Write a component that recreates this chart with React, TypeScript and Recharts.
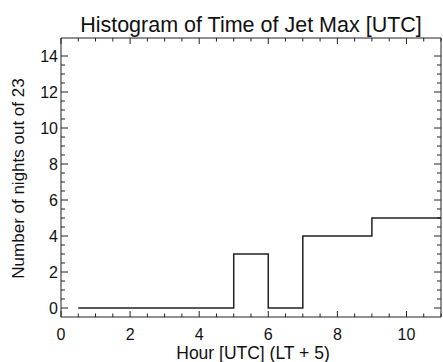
import React from 'react';
import { LineChart, Line, XAxis, YAxis } from 'recharts';

// histogram bins (left edge of each bin, hours UTC) and counts
const binStart = [0.5, 1, 2, 3, 4, 5, 6, 7, 8, 9, 10, 11];
const nightCounts = [0, 0, 0, 0, 0, 3, 0, 4, 4, 5, 5, 5];

const xTicks = Array.from({ length: 23 }, (_, i) => i * 0.5);
const yTicks = Array.from({ length: 29 }, (_, i) => i * 0.5);

const chartData = binStart.map((h, i) => ({ hour: h, nights: nightCounts[i] }));

const FONT = '"Liberation Sans", Arial, Helvetica, sans-serif';
const INK = '#222';
const MAJOR = 6;
const MINOR = 3.5;

const isMajor = (v: number) => Number.isInteger(v) && v % 2 === 0;

const BottomTick = (props: any) => {
  const { x, y, payload } = props;
  const major = isMajor(payload.value);
  return (
    <g>
      <line x1={x} x2={x} y1={y} y2={y - (major ? MAJOR : MINOR)} stroke={INK} strokeWidth={1} />
      {major && (
        <text x={x} y={y + 23} textAnchor="middle" fontSize={16} fontFamily={FONT} fill="#111">
          {payload.value}
        </text>
      )}
    </g>
  );
};

const TopTick = (props: any) => {
  const { x, y, payload } = props;
  const major = isMajor(payload.value);
  return <line x1={x} x2={x} y1={y} y2={y + (major ? MAJOR : MINOR)} stroke={INK} strokeWidth={1} />;
};

const LeftTick = (props: any) => {
  const { x, y, payload } = props;
  const major = isMajor(payload.value);
  return (
    <g>
      <line x1={x} x2={x + (major ? MAJOR + 1 : MINOR + 0.5)} y1={y} y2={y} stroke={INK} strokeWidth={1} />
      {major && (
        <text x={x - 3} y={y} dy="0.36em" textAnchor="end" fontSize={16} fontFamily={FONT} fill="#111">
          {payload.value}
        </text>
      )}
    </g>
  );
};

const RightTick = (props: any) => {
  const { x, y, payload } = props;
  const major = isMajor(payload.value);
  return <line x1={x} x2={x - (major ? MAJOR + 1 : MINOR + 0.5)} y1={y} y2={y} stroke={INK} strokeWidth={1} />;
};

export default function App() {
  return (
    <div style={{ position: 'absolute', left: 0, top: 0, width: 443, height: 362, background: '#fff' }}>
      <LineChart width={443} height={362} data={chartData} margin={{ top: 37, right: 1, bottom: 0, left: 0 }}>
        <XAxis
          dataKey="hour"
          type="number"
          domain={[0, 11]}
          ticks={xTicks}
          interval={0}
          allowDataOverflow
          height={45}
          tickSize={0}
          tickMargin={0}
          tickLine={false}
          axisLine={{ stroke: INK }}
          tick={BottomTick}
        />
        <XAxis
          xAxisId="top"
          dataKey="hour"
          type="number"
          orientation="top"
          domain={[0, 11]}
          ticks={xTicks}
          interval={0}
          allowDataOverflow
          height={1}
          tickSize={0}
          tickMargin={0}
          tickLine={false}
          axisLine={{ stroke: INK }}
          tick={TopTick}
        />
        <YAxis
          type="number"
          domain={[-0.5, 15]}
          ticks={yTicks}
          interval={0}
          allowDataOverflow
          width={61}
          tickSize={0}
          tickMargin={0}
          tickLine={false}
          axisLine={{ stroke: INK }}
          tick={LeftTick}
        />
        <YAxis
          yAxisId="right"
          orientation="right"
          type="number"
          domain={[-0.5, 15]}
          ticks={yTicks}
          interval={0}
          allowDataOverflow
          width={1}
          tickSize={0}
          tickMargin={0}
          tickLine={false}
          axisLine={{ stroke: INK }}
          tick={RightTick}
        />
        <Line
          type="stepAfter"
          dataKey="nights"
          stroke={INK}
          strokeWidth={1.5}
          dot={false}
          activeDot={false}
          isAnimationActive={false}
        />
      </LineChart>
      <svg width={443} height={362} style={{ position: 'absolute', left: 0, top: 0, pointerEvents: 'none' }}>
        <text x={251} y={31.5} textAnchor="middle" fontSize={21.5} fontFamily={FONT} fill="#111">
          Histogram of Time of Jet Max [UTC]
        </text>
        <text x={253} y={359} textAnchor="middle" fontSize={17.5} fontFamily={FONT} fill="#111">
          Hour [UTC] (LT + 5)
        </text>
        <text
          transform="translate(24,178.5) rotate(-90)"
          textAnchor="middle"
          fontSize={17}
          fontFamily={FONT}
          fill="#111"
        >
          Number of nights out of 23
        </text>
      </svg>
    </div>
  );
}
